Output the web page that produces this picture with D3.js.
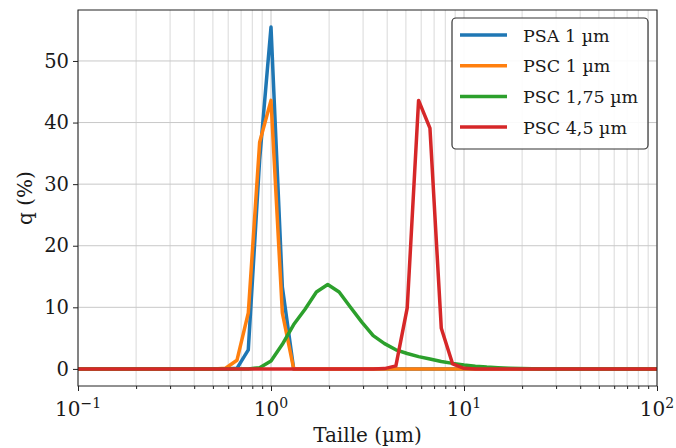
<!DOCTYPE html>
<html><head><meta charset="utf-8">
<script src="https://cdn.jsdelivr.net/npm/d3@7"></script>
<style>body{margin:0;background:#fff}svg{display:block}text{font-family:"DejaVu Serif",serif;fill:#1a1a1a}</style>
</head><body><svg id="c" width="676" height="448"></svg>
<script>
// particle sizes (µm), log-spaced bins
const sizes = [0.1,0.1145,0.1311,0.1501,0.1719,0.1968,0.2254,0.2581,0.2955,0.3384,0.3875,0.4437,0.5080,0.5817,0.6661,0.7627,0.8733,
  1.0,1.145,1.311,1.501,1.719,1.968,2.254,2.581,2.955,3.384,3.875,4.437,5.080,5.817,6.661,7.627,8.733,
  10.0,11.45,13.11,15.01,17.19,19.68,22.54,25.81,29.55,33.84,38.75,44.37,50.80,58.17,66.61,76.27,87.33,100];
const names = ["PSA 1 µm","PSC 1 µm","PSC 1,75 µm","PSC 4,5 µm"];
const colors = ["#1f77b4","#ff7f0e","#2ca02c","#d62728"];
const psa1 = [0,0,0,0,0,0,0,0,0,0,0,0,0,0,0.1,3.1,34,
  55.5,13.3,0,0,0,0,0,0,0,0,0,0,0,0,0,0,0,
  0,0,0,0,0,0,0,0,0,0,0,0,0,0,0,0,0,0];
const psc1 = [0,0,0,0,0,0,0,0,0,0,0,0,0,0.1,1.4,9.1,36.8,
  43.6,9.1,0,0,0,0,0,0,0,0,0,0,0,0,0,0,0,
  0,0,0,0,0,0,0,0,0,0,0,0,0,0,0,0,0,0];
const psc175 = [0,0,0,0,0,0,0,0,0,0,0,0,0,0,0,0,0.2,
  1.3,4.0,7.2,9.7,12.5,13.7,12.5,10.0,7.6,5.4,4.1,3.1,2.5,2.0,1.6,1.2,0.9,
  0.65,0.45,0.3,0.2,0.12,0.07,0.03,0,0,0,0,0,0,0,0,0,0,0];
const psc45 = [0,0,0,0,0,0,0,0,0,0,0,0,0,0,0,0,0,
  0,0,0,0,0,0,0,0,0,0,0.05,0.5,9.9,43.6,39.1,6.6,0.8,
  0.1,0,0,0,0,0,0,0,0,0,0,0,0,0,0,0,0,0];
const seriesVals = [psa1, psc1, psc175, psc45];
const xMajor = [0.1,1,10,100];
const xExp = ["−1","0","1","2"];
const yTicks = [0,10,20,30,40,50];

const L=78,R=657,T=10,B=386;
const svg=d3.select("#c");
const ymax=d3.max(seriesVals.flat());
const x=d3.scaleLog().domain([0.1,100]).range([L,R]);
const y=d3.scaleLinear().domain([-0.05*ymax,1.05*ymax]).range([B,T]);

const minors=[];
[0.1,1,10].forEach(d=>{for(let m=2;m<=9;m++)minors.push(d*m);});

const g=svg.append("g");
// grid
g.selectAll(".gmin").data(minors).join("line").attr("x1",d=>x(d)).attr("x2",d=>x(d)).attr("y1",T).attr("y2",B)
  .attr("stroke","#d9d9d9").attr("stroke-width",1);
g.selectAll(".gmaj").data(xMajor).join("line").attr("x1",d=>x(d)).attr("x2",d=>x(d)).attr("y1",T).attr("y2",B)
  .attr("stroke","#c8c8c8").attr("stroke-width",1);
g.selectAll(".gy").data(yTicks).join("line").attr("x1",L).attr("x2",R).attr("y1",d=>y(d)).attr("y2",d=>y(d))
  .attr("stroke","#c8c8c8").attr("stroke-width",1);

// lines
const line=d3.line().x((d,i)=>x(sizes[i])).y(d=>y(d));
svg.append("clipPath").attr("id","cp").append("rect").attr("x",L).attr("y",T).attr("width",R-L).attr("height",B-T);
seriesVals.forEach((s,i)=>{
  svg.append("path").datum(s).attr("d",line).attr("fill","none").attr("stroke",colors[i])
    .attr("stroke-width",3.5).attr("stroke-linejoin","round").attr("stroke-linecap","butt").attr("clip-path","url(#cp)");
});

// frame
svg.append("rect").attr("x",L).attr("y",T).attr("width",R-L).attr("height",B-T).attr("fill","none").attr("stroke","#222").attr("stroke-width",1);

// x axis ticks
const xa=svg.append("g").attr("transform",`translate(0,${B})`);
xa.call(d3.axisBottom(x).tickValues(xMajor).tickFormat("").tickSize(5)).call(a=>a.select(".domain").remove());
xa.append("g").call(d3.axisBottom(x).tickValues(minors).tickFormat("").tickSize(3)).call(a=>a.select(".domain").remove());
xa.selectAll(".tick line").attr("stroke","#222");
xMajor.forEach((d,i)=>{
  const t=svg.append("text").attr("x",x(d)).attr("y",416).attr("text-anchor","middle").attr("font-size",20);
  t.append("tspan").text("10");
  t.append("tspan").attr("dy",-8).attr("font-size",14).text(xExp[i]);
});
// y axis
const ya=svg.append("g").attr("transform",`translate(${L},0)`);
ya.call(d3.axisLeft(y).tickValues(yTicks).tickSize(5).tickPadding(4)).call(a=>a.select(".domain").remove());
ya.selectAll(".tick line").attr("stroke","#222");
ya.selectAll(".tick text").attr("font-size",19.5).attr("font-family","DejaVu Serif").attr("fill","#1a1a1a");

svg.append("text").attr("x",(L+R)/2).attr("y",442).attr("text-anchor","middle").attr("font-size",20).text("Taille (µm)");
svg.append("text").attr("transform",`translate(32,${(T+B)/2}) rotate(-90)`).attr("text-anchor","middle").attr("font-size",20).text("q (%)");

// legend
const lg=svg.append("g");
lg.append("rect").attr("x",452).attr("y",18).attr("width",196).attr("height",131).attr("rx",4)
  .attr("fill","#fff").attr("fill-opacity",0.9).attr("stroke","#333").attr("stroke-width",1.2);
names.forEach((n,i)=>{
  const yy=35+i*30.7;
  lg.append("line").attr("x1",460).attr("x2",507).attr("y1",yy).attr("y2",yy).attr("stroke",colors[i]).attr("stroke-width",3.5);
  lg.append("text").attr("x",523).attr("y",yy+6.5).attr("font-size",17.5).text(n);
});
</script></body></html>
